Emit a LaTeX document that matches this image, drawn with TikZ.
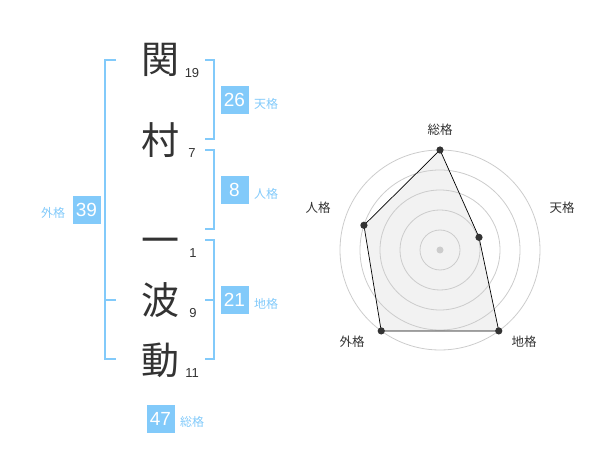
\documentclass[tikz,border=0pt]{standalone}
\usepackage{fontspec}
\setmainfont{Liberation Sans}
\newfontfamily\cjk{Noto Sans CJK JP}
\usepackage{xcolor}
\definecolor{kakublue}{HTML}{82CAFA}
\definecolor{inkgray}{HTML}{333333}
\definecolor{ringgray}{HTML}{CCCCCC}
\definecolor{areagray}{HTML}{F2F2F2}

\begin{document}
\begin{tikzpicture}[x=1pt,y=-1pt,
  kanji/.style={text=inkgray,font=\cjk\fontsize{38}{38}\selectfont,inner sep=0pt},
  stroke/.style={text=inkgray,font=\fontsize{13}{13}\selectfont,inner sep=0pt},
  bracket/.style={draw=kakublue,line width=2pt},
  scorebox/.style={fill=kakublue,text=white,minimum size=28pt,inner sep=0pt,font=\fontsize{19}{19}\selectfont},
  kakulabel/.style={text=kakublue,font=\cjk\fontsize{12}{12}\selectfont,inner sep=0pt},
  axislabel/.style={text=inkgray,font=\cjk\fontsize{12.5}{12.5}\selectfont,inner sep=0pt},
  ring/.style={draw=ringgray,line width=0.8pt},
  dot/.style={fill=inkgray}]
\useasboundingbox (0,0) rectangle (600,470);

\node[kanji] (k1) at (160,60) {関};
\node[kanji] (k2) at (160,140) {村};
\node[kanji] (k3) at (160,246) {一};
\node[kanji] (k4) at (160,300) {波};
\node[kanji] (k5) at (160,360) {動};

\node[stroke] (s1) at (192,73) {19};
\node[stroke] (s2) at (192,153) {7};
\node[stroke] (s3) at (193,253) {1};
\node[stroke] (s4) at (193,313) {9};
\node[stroke] (s5) at (192,373) {11};

\draw[bracket] (116,60) -- (105,60) -- (105,359) -- (116,359);
\draw[bracket] (105,300) -- (116,300);
\draw[bracket] (205,60) -- (214,60) -- (214,139) -- (205,139);
\draw[bracket] (205,150) -- (214,150) -- (214,229) -- (205,229);
\draw[bracket] (205,240) -- (214,240) -- (214,359) -- (205,359);
\draw[bracket] (205,300) -- (214,300);

\node[scorebox] (gai) at (86.5,210) {39};
\node[kakulabel] (gail) at (53,213) {外格};
\node[scorebox] (ten) at (234.5,100) {26};
\node[kakulabel] (tenl) at (266,104) {天格};
\node[scorebox] (jin) at (234.5,190) {8};
\node[kakulabel] (jinl) at (266,194) {人格};
\node[scorebox] (chi) at (234.5,300) {21};
\node[kakulabel] (chil) at (266,304) {地格};
\node[scorebox] (sou) at (160.5,419) {47};
\node[kakulabel] (soul) at (192,422) {総格};

\begin{scope}[shift={(440,250)},yscale=-1]
\coordinate (psou) at (90:100);
\coordinate (pten) at (18:41);
\coordinate (pchi) at (-54:100);
\coordinate (pgai) at (-126:100);
\coordinate (pjin) at (162:80);
\fill[areagray] (psou) -- (pten) -- (pchi) -- (pgai) -- (pjin) -- cycle;
\foreach \r in {20,40,60,80,100}
  \draw[ring] (0,0) circle (\r);
\fill[ringgray] (0,0) circle (3.5);
\draw[black,line width=0.7pt]
  (psou) -- (pten) -- (pchi) -- (pgai) -- (pjin) -- cycle;
\foreach \p in {psou,pten,pchi,pgai,pjin}
  \fill[dot] (\p) circle (3.6);
\end{scope}

\node[axislabel] (asou) at (440,130) {総格};
\node[axislabel] (aten) at (562,208) {天格};
\node[axislabel] (ajin) at (318,208) {人格};
\node[axislabel] (agai) at (352,342) {外格};
\node[axislabel] (achi) at (524,342) {地格};
\end{tikzpicture}
\end{document}
